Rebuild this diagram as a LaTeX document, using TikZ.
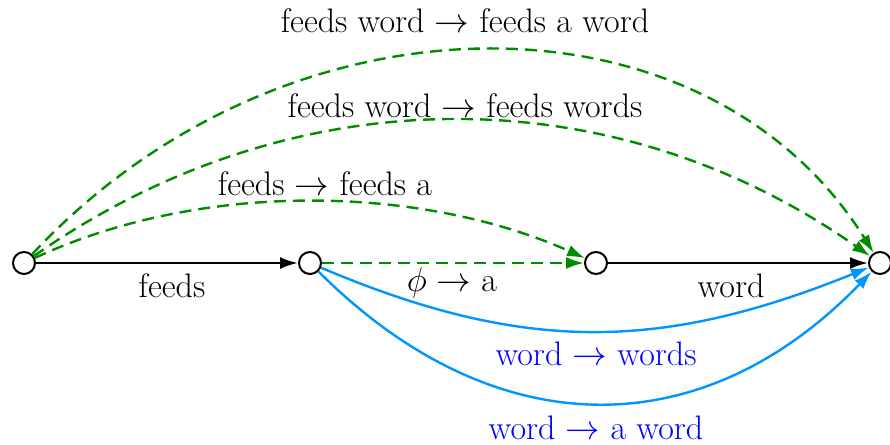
\documentclass[tikz,border=0pt]{standalone}
\usetikzlibrary{arrows.meta}
\definecolor{gre}{RGB}{0,140,0}
\definecolor{blu}{RGB}{0,150,255}
\begin{document}
\begin{tikzpicture}[x=0.5pt,y=-0.5pt,
  st/.style={circle,draw,line width=1pt,minimum size=11pt,inner sep=0pt,fill=white},
  edge/.style={line width=1.2pt,-{Latex[length=9pt,width=6pt]}},
  gedge/.style={edge,gre,dash pattern=on 6pt off 3.5pt},
  bedge/.style={edge,blu},
  lab/.style={font=\fontsize{17}{19}\selectfont,text=black,inner sep=0pt},
  blab/.style={font=\fontsize{17}{19}\selectfont,text=blue,inner sep=0pt}]
\useasboundingbox (0,0) rectangle (890,445);
\node[st] (a) at (24,263) {};
\node[st] (b) at (310,263) {};
\node[st] (c) at (596,263) {};
\node[st] (d) at (880,263) {};
\draw[edge] (a) -- (b);
\draw[edge] (c) -- (d);
\draw[gedge] (b) -- (c);
\draw[gedge] (a) to[out=25,in=156,out distance=91pt,in distance=91pt] (c);
\draw[gedge] (a) to[out=35,in=145,out distance=158pt,in distance=158pt] (d);
\draw[gedge] (a) to[out=47,in=122,out distance=185pt,in distance=160pt] (d);
\draw[bedge] (b) to[out=-23,in=-158,out distance=111pt,in distance=111pt] (d);
\draw[bedge] (b) to[out=-45,in=-134,out distance=123pt,in distance=123pt] (d);
\node[lab] (l1) at (172,286) {feeds};
\node[lab] (l2) at (452,283) {$\phi\to$ a};
\node[lab] (l3) at (731,286) {word};
\node[lab] (l4) at (325,184) {feeds $\to$ feeds a};
\node[lab] (l5) at (465,106) {feeds word $\to$ feeds words};
\node[lab] (l6) at (465,21) {feeds word $\to$ feeds a word};
\node[blab] (l7) at (596,354) {word $\to$ words};
\node[blab] (l8) at (596,428) {word $\to$ a word};
\end{tikzpicture}
\end{document}
